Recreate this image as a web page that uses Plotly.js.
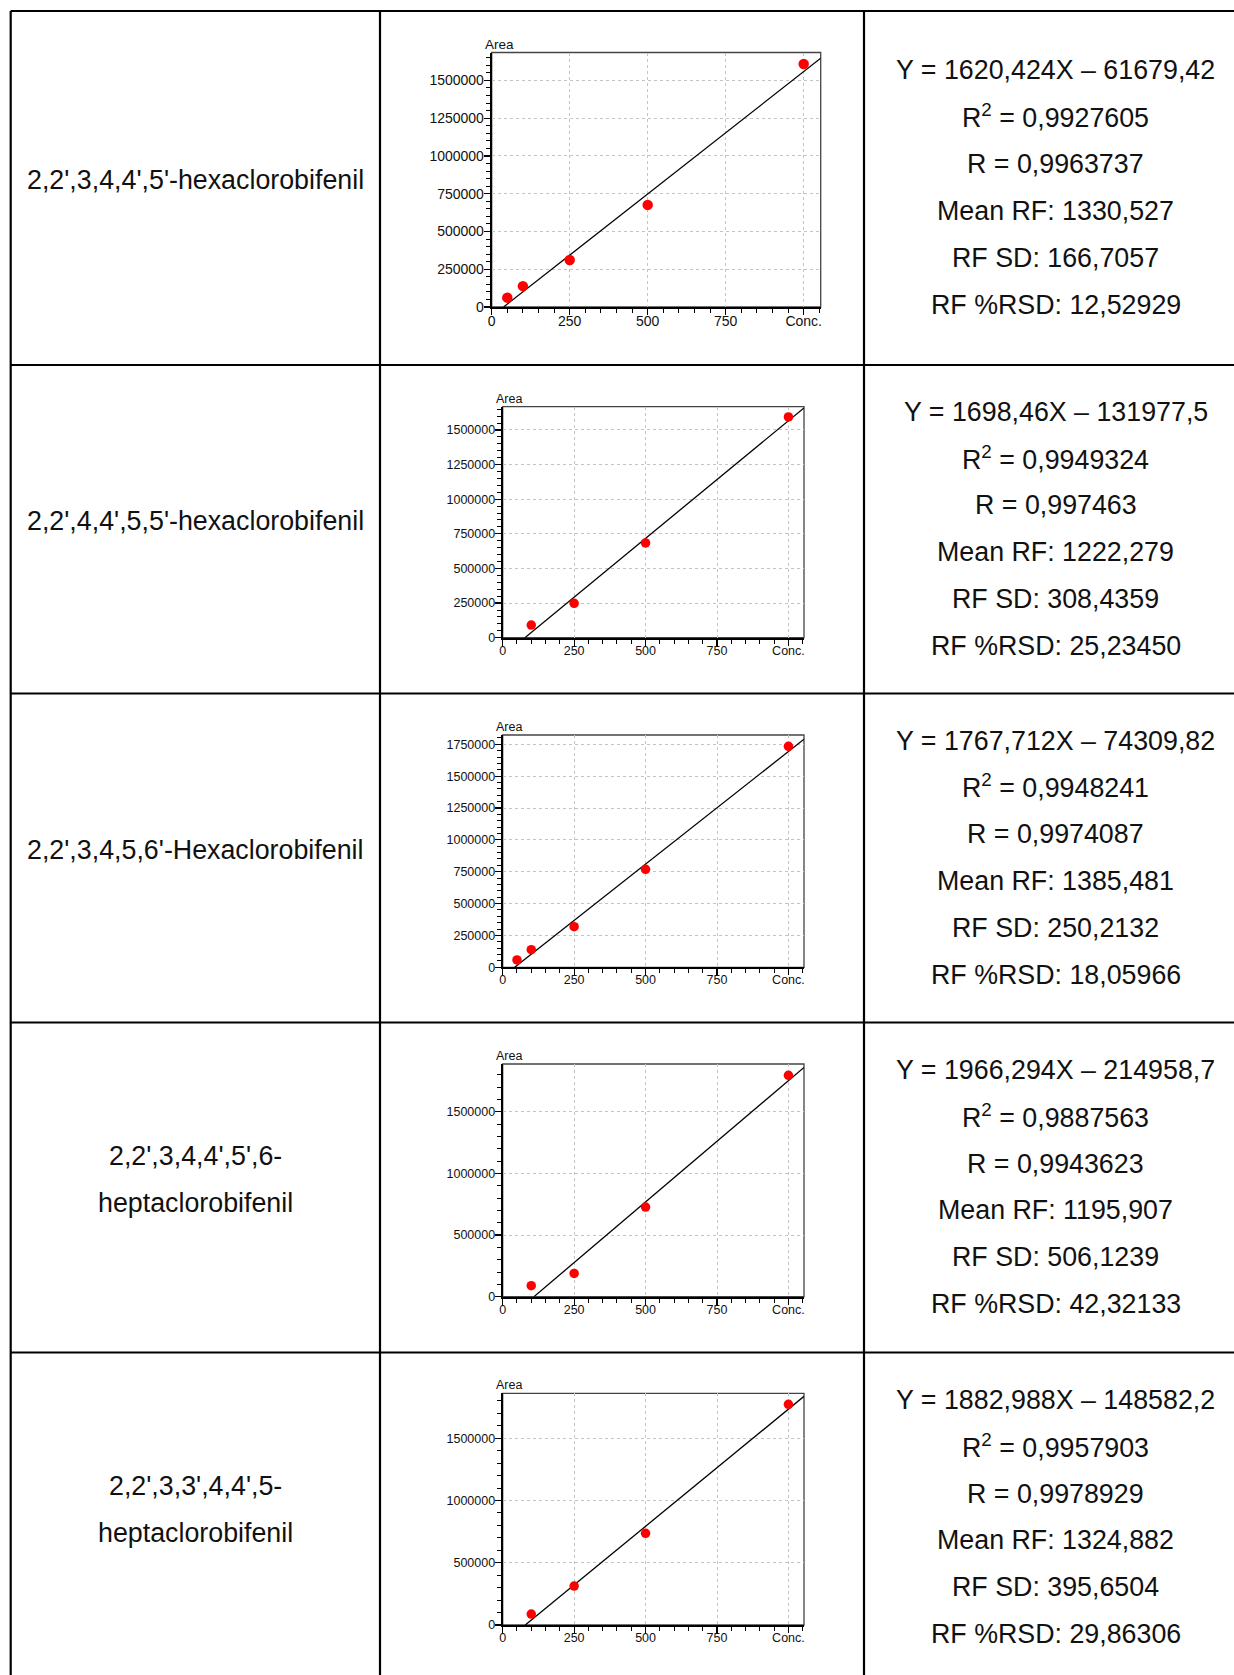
<!DOCTYPE html>
<html><head><meta charset="utf-8">
<script src="https://cdn.plot.ly/plotly-3.0.1.min.js"></script>
<style>html,body{margin:0;padding:0;background:#fff;}#chart{width:1234px;height:1675px;}</style>
</head><body><div id="chart"></div>
<script>
// ---------- data ----------
const compoundLines = [
  ["2,2',3,4,4',5'-hexaclorobifenil"],
  ["2,2',4,4',5,5'-hexaclorobifenil"],
  ["2,2',3,4,5,6'-Hexaclorobifenil"],
  ["2,2',3,4,4',5',6-", "heptaclorobifenil"],
  ["2,2',3,3',4,4',5-", "heptaclorobifenil"]
];
const conc1 = [50, 100, 250, 500, 1000];
const area1 = [62000, 138000, 311000, 676000, 1609000];
const conc2 = [100, 250, 500, 1000];
const area2 = [91500, 248000, 684000, 1594000];
const conc3 = [50, 100, 250, 500, 1000];
const area3 = [57500, 138600, 319000, 769000, 1734000];
const conc4 = [100, 250, 500, 1000];
const area4 = [89000, 189000, 727000, 1795000];
const conc5 = [100, 250, 500, 1000];
const area5 = [88000, 313000, 737000, 1773000];
const slopes = [1620.424, 1698.46, 1767.712, 1966.294, 1882.988];
const intercepts = [-61679.42, -131977.5, -74309.82, -214958.7, -148582.2];
const equationText = ["Y = 1620,424X – 61679,42", "Y = 1698,46X – 131977,5", "Y = 1767,712X – 74309,82", "Y = 1966,294X – 214958,7", "Y = 1882,988X – 148582,2"];
const r2Text = ["0,9927605", "0,9949324", "0,9948241", "0,9887563", "0,9957903"];
const rText = ["0,9963737", "0,997463", "0,9974087", "0,9943623", "0,9978929"];
const meanRFText = ["1330,527", "1222,279", "1385,481", "1195,907", "1324,882"];
const rfSDText = ["166,7057", "308,4359", "250,2132", "506,1239", "395,6504"];
const rfRSDText = ["12,52929", "25,23450", "18,05966", "42,32133", "29,86306"];
const xTickVals = [0, 250, 500, 750, 1000];
const xTickText = ["0", "250", "500", "750", "Conc."];
const concSets = [conc1, conc2, conc3, conc4, conc5];
const areaSets = [area1, area2, area3, area4, area5];

// ---------- layout geometry (px) ----------
const W = 1234, H = 1675;
const X = px => px / W, Y = py => 1 - py / H;
const colX = [10.7, 380, 864];
const rowY = [11, 365, 693.5, 1022.5, 1352.5, 1682];
const plotBoxes = [
  [491.7, 820.7, 52.5, 307],
  [502.7, 804, 406.7, 637.7],
  [502.7, 804, 735, 967.3],
  [502.7, 804, 1064, 1296.7],
  [502.7, 804, 1393.3, 1625]
];
const xMax = 1054.5;
const yMax = [1685000, 1668000, 1823000, 1886700, 1861500];
const yDtick = [250000, 250000, 250000, 500000, 500000];
const tickFontSize = [14, 12.5, 12.5, 12.5, 12.5];
const FONT = "Liberation Sans, Arial, Helvetica, sans-serif";

const data = [];
const layout = {
  width: W, height: H, margin: {l: 0, r: 0, t: 0, b: 0},
  paper_bgcolor: '#fff', plot_bgcolor: '#fff', showlegend: false,
  shapes: [], annotations: []
};

for (let i = 0; i < 5; i++) {
  const n = i + 1;
  const xa = n === 1 ? 'x' : 'x' + n;
  const ya = n === 1 ? 'y' : 'y' + n;
  const [L, R, T, B] = plotBoxes[i];
  // regression line from the x-intercept to the right edge of the axis
  const x0 = -intercepts[i] / slopes[i];
  const lx = [x0, xMax];
  const ly = lx.map(v => slopes[i] * v + intercepts[i]);
  data.push({x: lx, y: ly, xaxis: xa, yaxis: ya, type: 'scatter', mode: 'lines',
    line: {color: '#000', width: 1.3}, hoverinfo: 'skip'});
  data.push({x: concSets[i], y: areaSets[i], xaxis: xa, yaxis: ya, type: 'scatter', mode: 'markers',
    marker: {color: '#ff0000', size: n === 1 ? 10.5 : 9.5}, cliponaxis: false});
  const fs = tickFontSize[i];
  const common = {
    showline: true, linecolor: '#000', linewidth: 2, mirror: false,
    ticks: 'outside', ticklen: 6, tickwidth: 1.2, tickcolor: '#000',
    tickfont: {family: FONT, size: fs, color: '#111'},
    showgrid: true, gridcolor: '#c4c4c4', griddash: 'dot', gridwidth: 1,
    zeroline: false, fixedrange: true
  };
  layout[n === 1 ? 'xaxis' : 'xaxis' + n] = Object.assign({}, common, {
    domain: [X(L), X(R)], range: [0, xMax], anchor: ya, ticklabelstandoff: -6,
    tickmode: 'array', tickvals: xTickVals, ticktext: xTickText,
    minor: {ticks: 'outside', ticklen: 4, tickwidth: 1, tickcolor: '#000', tick0: 0, dtick: 50, showgrid: false}
  });
  layout[n === 1 ? 'yaxis' : 'yaxis' + n] = Object.assign({}, common, {
    domain: [Y(B), Y(T)], range: [0, yMax[i]], anchor: xa, ticklabelstandoff: -3,
    tickmode: 'linear', tick0: 0, dtick: yDtick[i], tickformat: 'd',
    minor: {ticks: 'outside', ticklen: 4, tickwidth: 1, tickcolor: '#000', tick0: 0, dtick: yDtick[i] / 5, showgrid: false}
  });
  // thin frame on top/right
  layout.shapes.push({type: 'rect', xref: xa + ' domain', yref: ya + ' domain', x0: 0, x1: 1, y0: 0, y1: 1,
    line: {color: '#444', width: 1.3}, layer: 'below'});
  layout.annotations.push({text: 'Area', xref: xa + ' domain', yref: ya + ' domain', x: 0, y: 1,
    xanchor: 'left', yanchor: 'bottom', xshift: -9, yshift: -1, showarrow: false,
    font: {family: FONT, size: n === 1 ? 13.5 : 12.5, color: '#111'}});

  // table texts
  const rc = (rowY[i] + rowY[i + 1]) / 2;
  const rowCenter = i === 4 ? 1517.5 : rc;
  const names = compoundLines[i];
  names.forEach((t, k) => {
    const cy = rowCenter - 8 + (k - (names.length - 1) / 2) * 46.5;
    layout.annotations.push({text: t, xref: 'paper', yref: 'paper', x: X((colX[0] + colX[1]) / 2), y: Y(cy),
      xanchor: 'center', yanchor: 'middle', showarrow: false, font: {family: FONT, size: 26.8, color: '#111'}});
  });
  const rightLines = [equationText[i], 'R<sup>2</sup> = ' + r2Text[i], 'R = ' + rText[i],
    'Mean RF: ' + meanRFText[i], 'RF SD: ' + rfSDText[i], 'RF %RSD: ' + rfRSDText[i]];
  rightLines.forEach((t, k) => {
    const cy = rowCenter - 0.5 + (k - 2.5) * 46.8 + (k === 1 ? -1 : 0);
    layout.annotations.push({text: t, xref: 'paper', yref: 'paper', x: X(1055.5), y: Y(cy),
      xanchor: 'center', yanchor: 'middle', showarrow: false, font: {family: FONT, size: 26.8, color: '#111'}});
  });
}

// table grid lines
const lineStyle = {color: '#000', width: 2.2};
colX.forEach(cx => layout.shapes.push({type: 'line', xref: 'paper', yref: 'paper',
  x0: X(cx), x1: X(cx), y0: Y(rowY[0]), y1: 0, line: lineStyle}));
rowY.slice(0, 5).forEach(ry => layout.shapes.push({type: 'line', xref: 'paper', yref: 'paper',
  x0: X(colX[0]), x1: 1, y0: Y(ry), y1: Y(ry), line: lineStyle}));

Plotly.newPlot('chart', data, layout, {displayModeBar: false, staticPlot: true});
</script>
</body></html>
